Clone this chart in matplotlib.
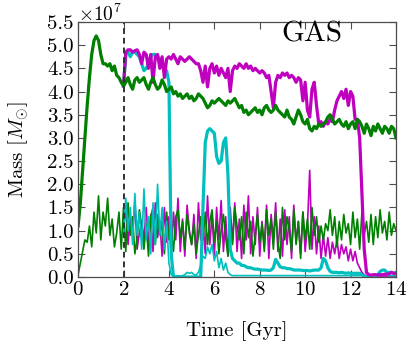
import matplotlib
matplotlib.use("Agg")
import matplotlib.pyplot as plt
import numpy as np

plt.rcParams["font.family"] = "serif"
plt.rcParams["font.serif"] = ["cmr10", "DejaVu Serif"]
plt.rcParams["mathtext.fontset"] = "cm"
plt.rcParams["axes.formatter.use_mathtext"] = True
plt.rcParams["axes.unicode_minus"] = False

# gas mass in units of 1e7 Msun, sampled every 0.1 Gyr
T_STEP = 0.1

# thick green, t = 0.0 .. 14.0
green_total = [
    1.1, 1.6, 2.3, 3.0, 3.7, 4.3, 4.8, 5.1, 5.2, 5.1,        # 0.0
    4.8, 4.6, 4.6, 4.55, 4.6, 4.45, 4.55, 4.35, 4.3, 4.2,     # 1.0
    4.12, 4.2, 4.3, 4.15, 4.05, 4.25, 4.3, 4.2, 4.25, 4.3,    # 2.0
    4.15, 4.05, 4.2, 4.3, 4.15, 4.05, 4.1, 4.25, 4.15, 4.0,   # 3.0
    4.05, 4.1, 3.95, 4.0, 3.9, 3.95, 3.85, 3.9, 3.95, 3.85,   # 4.0
    3.9, 3.8, 3.85, 3.95, 3.9, 3.85, 3.75, 3.65, 3.7, 3.8,    # 5.0
    3.75, 3.8, 3.85, 3.8, 3.75, 3.7, 3.8, 3.75, 3.8, 3.85,    # 6.0
    3.75, 3.65, 3.7, 3.55, 3.6, 3.5, 3.55, 3.6, 3.65, 3.55,   # 7.0
    3.6, 3.5, 3.65, 3.7, 3.6, 3.55, 3.6, 3.7, 3.6, 3.55,      # 8.0
    3.5, 3.45, 3.6, 3.45, 3.4, 3.3, 3.45, 3.6, 3.5, 3.35,     # 9.0
    3.3, 3.4, 3.2, 3.15, 3.25, 3.2, 3.3, 3.25, 3.3, 3.35,     # 10.0
    3.45, 3.5, 3.4, 3.3, 3.35, 3.4, 3.3, 3.25, 3.35, 3.2,     # 11.0
    3.3, 3.35, 3.2, 3.4, 3.35, 3.25, 3.1, 3.3, 3.2, 3.05,     # 12.0
    3.25, 3.15, 3.3, 3.2, 3.1, 3.25, 3.2, 3.1, 3.25, 3.2,     # 13.0
    3.0,                                                      # 14.0
]

# thick magenta, t = 2.0 .. 14.0
magenta_total = [
    4.12, 4.85, 4.9, 4.9, 4.85, 4.88, 4.9, 4.8, 4.6, 4.85,    # 2.0
    4.8, 4.5, 4.8, 4.2, 4.75, 4.8, 4.5, 4.75, 4.3, 4.7,       # 3.0
    4.75, 4.7, 4.8, 4.7, 4.6, 4.75, 4.7, 4.65, 4.7, 4.75,     # 4.0
    4.7, 4.65, 4.6, 4.6, 4.45, 4.2, 4.55, 4.1, 4.5, 4.6,      # 5.0
    4.4, 4.55, 4.35, 4.5, 4.4, 4.3, 4.5, 4.0, 4.45, 4.55,     # 6.0
    4.5, 4.6, 4.55, 4.5, 4.6, 4.5, 4.55, 4.45, 4.5, 4.45,     # 7.0
    4.4, 4.45, 4.4, 4.3, 4.35, 4.0, 3.65, 4.2, 4.35, 4.3,     # 8.0
    4.4, 4.35, 4.4, 4.3, 4.35, 4.3, 4.2, 4.3, 4.25, 3.8,      # 9.0
    4.2, 3.6, 3.45, 4.05, 4.2, 3.7, 3.3, 3.35, 3.25, 3.35,    # 10.0
    3.3, 3.4, 3.35, 3.6, 3.8, 3.9, 4.0, 3.85, 4.05, 3.7,      # 11.0
    4.0, 3.9, 3.4, 3.4, 3.0, 1.8, 0.6, 0.1, 0.05, 0.04,       # 12.0
    0.05, 0.05, 0.04, 0.05, 0.05, 0.06, 0.06, 0.07, 0.1, 0.08, # 13.0
    0.08,                                                     # 14.0
]

# thick cyan, t = 2.0 .. 14.0
cyan_total = [
    4.12, 4.8, 4.85, 4.75, 4.85, 4.85, 4.8, 4.75, 4.6, 4.45,  # 2.0
    4.5, 4.6, 4.75, 4.8, 4.8, 4.75, 4.7, 4.6, 4.45, 4.45,     # 3.0
    4.2, 0.5, 0.0, 0.0, 0.0, 0.0, 0.0, 0.0, 0.0, 0.0,         # 4.0
    0.0, 0.0, 0.0, 0.0, 0.0, 1.5, 2.9, 3.15, 3.2, 3.15,       # 5.0
    3.1, 2.6, 2.45, 2.5, 2.9, 3.0, 2.2, 0.6, 0.4, 0.35,       # 6.0
    0.3, 0.3, 0.25, 0.25, 0.22, 0.2, 0.2, 0.18, 0.17, 0.17,   # 7.0
    0.16, 0.15, 0.15, 0.15, 0.14, 0.15, 0.2, 0.38, 0.3, 0.22, # 8.0
    0.2, 0.2, 0.18, 0.18, 0.17, 0.15, 0.15, 0.15, 0.15, 0.14, # 9.0
    0.14, 0.14, 0.13, 0.14, 0.15, 0.15, 0.15, 0.2, 0.4, 0.35, # 10.0
    0.2, 0.12, 0.1, 0.1, 0.1, 0.09, 0.1, 0.09, 0.08, 0.09,    # 11.0
    0.08, 0.08, 0.08, 0.08, 0.08, 0.05, 0.02, 0.0, 0.0, 0.0,  # 12.0
    0.0, 0.02, 0.05, 0.12, 0.15, 0.15, 0.1, 0.1, 0.1, 0.08,   # 13.0
    0.1,                                                      # 14.0
]

# thin green, t = 0.0 .. 14.0
green_cold = [
    0.05, 0.3, 0.55, 0.8, 0.75, 1.1, 0.65, 1.4, 0.95, 1.75,   # 0.0
    0.8, 1.4, 1.1, 1.7, 0.9, 1.25, 0.65, 0.95, 1.4, 0.6,      # 1.0
    1.5, 0.55, 1.6, 0.9, 1.3, 0.5, 0.85, 1.45, 1.1, 0.6,      # 2.0
    1.15, 0.45, 1.3, 1.5, 0.7, 1.35, 0.9, 1.2, 0.5, 1.4,      # 3.0
    0.8, 1.0, 0.55, 1.3, 1.45, 0.85, 1.2, 0.6, 1.35, 0.95,    # 4.0
    0.7, 1.15, 0.5, 0.9, 1.3, 0.8, 1.4, 0.7, 1.2, 1.45,       # 5.0
    0.75, 1.2, 0.5, 1.0, 1.35, 0.85, 0.45, 1.25, 0.7, 1.5,    # 6.0
    1.1, 0.8, 1.3, 0.5, 1.4, 0.85, 1.2, 0.45, 0.9, 1.35,      # 7.0
    0.75, 1.15, 0.55, 1.45, 0.9, 1.25, 0.6, 1.4, 0.75, 0.4,   # 8.0
    1.5, 0.8, 1.3, 1.0, 0.55, 1.45, 0.7, 1.2, 0.4, 1.4,       # 9.0
    0.8, 1.25, 0.6, 1.5, 0.9, 1.3, 0.75, 1.1, 0.8, 1.15,      # 10.0
    1.0, 1.45, 0.9, 1.3, 0.65, 1.2, 0.8, 1.35, 0.95, 1.15,    # 11.0
    0.7, 1.4, 0.85, 1.25, 0.6, 1.4, 0.9, 1.2, 0.75, 1.35,     # 12.0
    0.7, 1.3, 0.85, 1.45, 0.95, 1.2, 0.8, 1.4, 0.9, 1.15,     # 13.0
    1.0,                                                      # 14.0
]

# thin magenta, t = 2.0 .. 14.0
magenta_cold = [
    1.0, 1.55, 0.7, 1.3, 0.9, 1.65, 0.6, 0.95, 1.2, 0.8,      # 2.0
    1.5, 0.7, 1.35, 0.55, 1.6, 0.85, 1.2, 0.45, 1.5, 0.75,    # 3.0
    1.3, 0.45, 1.4, 0.8, 1.7, 0.55, 1.25, 0.45, 1.55, 1.0,    # 4.0
    0.7, 1.35, 0.4, 1.6, 0.8, 1.2, 0.5, 1.75, 0.7, 1.35,      # 5.0
    0.45, 1.5, 0.8, 1.65, 0.55, 1.3, 0.45, 1.5, 0.75, 1.6,    # 6.0
    0.55, 1.25, 0.4, 1.55, 0.8, 1.75, 0.5, 1.3, 0.7, 1.5,     # 7.0
    0.45, 1.2, 0.65, 1.55, 0.4, 1.35, 0.8, 1.6, 0.55, 1.25,   # 8.0
    0.45, 1.45, 0.7, 1.3, 0.4, 1.55, 0.75, 1.2, 0.5, 1.4,     # 9.0
    0.55, 1.1, 2.3, 0.6, 1.3, 0.5, 1.1, 0.4, 0.9, 0.45,       # 10.0
    0.85, 0.4, 0.75, 0.5, 0.8, 0.4, 0.7, 0.5, 0.65, 0.35,     # 11.0
    0.6, 0.35, 0.55, 0.3, 0.2, 0.1, 0.05, 0.02, 0.02, 0.02,   # 12.0
    0.02, 0.02, 0.02, 0.02, 0.02, 0.02, 0.02, 0.02, 0.02, 0.02, # 13.0
    0.02,                                                     # 14.0
]

# thin cyan, t = 2.0 .. 14.0
cyan_cold = [
    0.9, 1.7, 1.0, 1.5, 0.7, 1.8, 0.9, 1.4, 0.6, 1.9,         # 2.0
    0.8, 1.3, 0.5, 1.6, 0.7, 2.0, 0.9, 1.5, 0.6, 1.2,         # 3.0
    0.3, 0.05, 0.02, 0.02, 0.03, 0.02, 0.03, 0.05, 0.1, 0.08, # 4.0
    0.1, 0.05, 0.04, 0.1, 0.25, 0.45, 0.4, 0.65, 0.5, 0.7,    # 5.0
    0.35, 0.55, 0.2, 0.4, 0.15, 0.3, 0.1, 0.05, 0.03, 0.03,   # 6.0
    0.03, 0.03, 0.03, 0.03, 0.03, 0.03, 0.03, 0.03, 0.03, 0.03, # 7.0
    0.03, 0.03, 0.03, 0.03, 0.03, 0.03, 0.03, 0.03, 0.03, 0.03, # 8.0
    0.03, 0.03, 0.03, 0.03, 0.03, 0.03, 0.03, 0.03, 0.03, 0.03, # 9.0
    0.03, 0.03, 0.03, 0.03, 0.03, 0.03, 0.03, 0.03, 0.03, 0.03, # 10.0
    0.03, 0.03, 0.03, 0.03, 0.03, 0.03, 0.03, 0.03, 0.03, 0.03, # 11.0
    0.03, 0.03, 0.03, 0.03, 0.03, 0.03, 0.02, 0.0, 0.0, 0.0,  # 12.0
    0.0, 0.0, 0.02, 0.04, 0.05, 0.05, 0.04, 0.03, 0.03, 0.03, # 13.0
    0.03,                                                     # 14.0
]


def times(values, start):
    return start + T_STEP * np.arange(len(values))


fig = plt.figure(figsize=(4.11, 3.47), dpi=100)
ax = fig.add_axes([0.19, 0.2017, 0.7735, 0.7349])

ax.plot(times(magenta_cold, 2.0), np.array(magenta_cold) * 1e7, color="m", lw=1.2)
ax.plot(times(green_cold, 0.0), np.array(green_cold) * 1e7, color="g", lw=1.2)
ax.plot(times(cyan_cold, 2.0), np.array(cyan_cold) * 1e7, color="c", lw=1.2)
ax.plot(times(cyan_total, 2.0), np.array(cyan_total) * 1e7, color="c", lw=2.3)
ax.plot(times(magenta_total, 2.0), np.array(magenta_total) * 1e7, color="m", lw=2.3)
ax.plot(times(green_total, 0.0), np.array(green_total) * 1e7, color="g", lw=2.3)

ax.axvline(2.0, color="0.2", ls=(0, (3, 2)), lw=1.4)

ax.set_xlim(0, 14)
ax.set_ylim(0, 5.5e7)
ax.set_xticks(np.arange(0, 15, 2))
ax.set_yticks(np.arange(0, 5.6e7, 0.5e7))
ax.yaxis.set_major_formatter(matplotlib.ticker.FuncFormatter(lambda v, p: f"{v / 1e7:.1f}"))
ax.text(0.0, 0.99, r"$\times 10^{7}$", transform=ax.transAxes, fontsize=14,
        ha="left", va="bottom")

ax.tick_params(direction="in", top=True, right=True, length=5, width=0.8,
               labelsize=15, color="0.3", pad=3)
for s in ax.spines.values():
    s.set_color("0.3")
    s.set_linewidth(0.9)

ax.set_xlabel("Time [Gyr]", fontsize=15, labelpad=16)
ax.set_ylabel(r"Mass [$M_{\odot}$]", fontsize=15, labelpad=12)
ax.text(0.735, 0.95, "GAS", transform=ax.transAxes, fontsize=21,
        ha="center", va="center")

fig.savefig("out.png", dpi=100)
